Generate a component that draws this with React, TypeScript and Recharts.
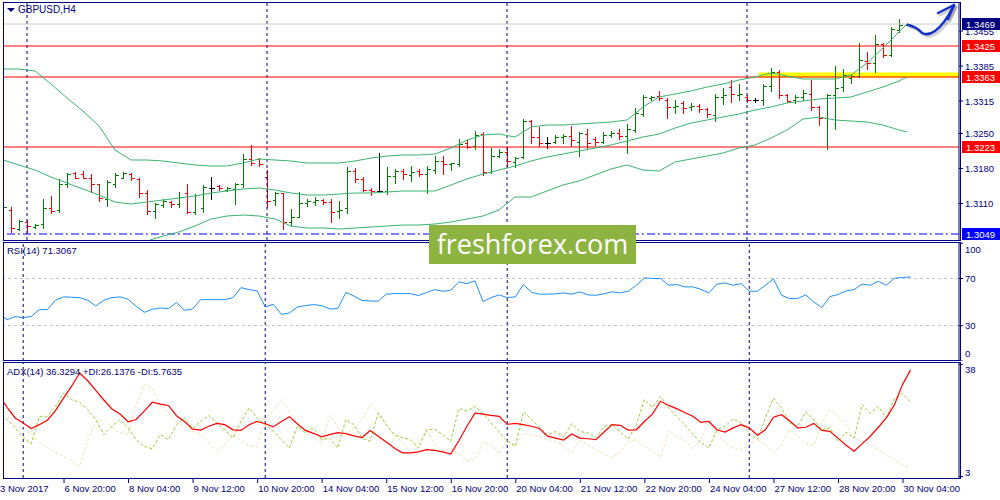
import React from "react";
import {
  ComposedChart,
  Bar,
  Line,
  XAxis,
  YAxis,
  ReferenceLine,
  ReferenceArea,
  ReferenceDot,
} from "recharts";

// GBPUSD H4, 3 Nov 12:00 .. 30 Nov 08:00
const opens = [
  1.3083, 1.3097, 1.3059, 1.3073, 1.3063, 1.3069, 1.3101, 1.3097, 1.3149, 1.3171,
  1.3169, 1.3161, 1.3149, 1.3119, 1.3149, 1.3161, 1.3169, 1.3159, 1.3131, 1.3095,
  1.3107, 1.3113, 1.3109, 1.3131, 1.3093, 1.3101, 1.3141, 1.3145, 1.3137, 1.3139,
  1.3149, 1.3199, 1.3199, 1.3163, 1.3117, 1.3131, 1.3073, 1.3083, 1.3111, 1.3113,
  1.3117, 1.3113, 1.3095, 1.3101, 1.3175, 1.3159, 1.3137, 1.3135, 1.3135, 1.3165,
  1.3175, 1.3167, 1.3175, 1.3169, 1.3177, 1.3195, 1.3189, 1.3189, 1.3231, 1.3225,
  1.3249, 1.3173, 1.3205, 1.3213, 1.3193, 1.3203, 1.3275, 1.3243, 1.3231, 1.3233,
  1.3243, 1.3245, 1.3233, 1.3249, 1.3239, 1.3233, 1.3247, 1.3251, 1.3245, 1.3257,
  1.3289, 1.3321, 1.3325, 1.3317, 1.3303, 1.3311, 1.3303, 1.3305, 1.3299, 1.3287,
  1.3323, 1.3343, 1.3327, 1.3323, 1.3317, 1.3317, 1.3345, 1.3373, 1.3327, 1.3317,
  1.3323, 1.3329, 1.3303, 1.3281, 1.3327, 1.3343, 1.3361, 1.3365, 1.3395, 1.3391,
  1.3429, 1.3407, 1.3457, 1.3467,
];
const highs = [
  1.3131, 1.3103, 1.3077, 1.3077, 1.3069, 1.3119, 1.3125, 1.3159, 1.3171, 1.3173,
  1.3175, 1.3169, 1.3149, 1.3157, 1.3171, 1.3173, 1.3171, 1.3161, 1.3137, 1.3111,
  1.3119, 1.3115, 1.3133, 1.3149, 1.3129, 1.3147, 1.3163, 1.3147, 1.3143, 1.3151,
  1.3209, 1.3227, 1.3201, 1.3177, 1.3133, 1.3131, 1.3099, 1.3133, 1.3119, 1.3123,
  1.3119, 1.3119, 1.3115, 1.3183, 1.3181, 1.3163, 1.3141, 1.3211, 1.3183, 1.3179,
  1.3179, 1.3185, 1.3179, 1.3185, 1.3205, 1.3205, 1.3191, 1.3239, 1.3237, 1.3255,
  1.3253, 1.3221, 1.3219, 1.3223, 1.3203, 1.3279, 1.3277, 1.3263, 1.3243, 1.3247,
  1.3249, 1.3265, 1.3253, 1.3259, 1.3243, 1.3253, 1.3255, 1.3259, 1.3269, 1.3301,
  1.3327, 1.3325, 1.3335, 1.3321, 1.3317, 1.3315, 1.3311, 1.3309, 1.3301, 1.3329,
  1.3341, 1.3357, 1.3349, 1.3327, 1.3321, 1.3349, 1.3381, 1.3377, 1.3329, 1.3327,
  1.3337, 1.3357, 1.3305, 1.3329, 1.3385, 1.3379, 1.3369, 1.3431, 1.3413, 1.3447,
  1.3431, 1.3463, 1.3479, 1.3471,
];
const lows = [
  1.3057, 1.3053, 1.3057, 1.3053, 1.3061, 1.3061, 1.3091, 1.3093, 1.3143, 1.3161,
  1.3161, 1.3133, 1.3115, 1.3105, 1.3143, 1.3161, 1.3157, 1.3123, 1.3089, 1.3081,
  1.3103, 1.3103, 1.3103, 1.3091, 1.3089, 1.3093, 1.3119, 1.3137, 1.3135, 1.3109,
  1.3143, 1.3187, 1.3185, 1.3103, 1.3107, 1.3059, 1.3065, 1.3083, 1.3105, 1.3107,
  1.3109, 1.3073, 1.3081, 1.3091, 1.3153, 1.3135, 1.3127, 1.3133, 1.3129, 1.3151,
  1.3159, 1.3155, 1.3165, 1.3131, 1.3171, 1.3169, 1.3177, 1.3185, 1.3221, 1.3219,
  1.3167, 1.3171, 1.3203, 1.3185, 1.3183, 1.3201, 1.3231, 1.3225, 1.3221, 1.3231,
  1.3231, 1.3225, 1.3205, 1.3221, 1.3227, 1.3231, 1.3243, 1.3239, 1.3211, 1.3253,
  1.3285, 1.3317, 1.3317, 1.3281, 1.3291, 1.3291, 1.3297, 1.3293, 1.3283, 1.3275,
  1.3309, 1.3313, 1.3317, 1.3313, 1.3313, 1.3307, 1.3335, 1.3321, 1.3313, 1.3311,
  1.3317, 1.3297, 1.3267, 1.3219, 1.3259, 1.3335, 1.3351, 1.3363, 1.3379, 1.3373,
  1.3403, 1.3405, 1.3453, 1.3467,
];
const closes = [
  1.3103, 1.3061, 1.3075, 1.3065, 1.3067, 1.3101, 1.3095, 1.3149, 1.3169, 1.3161,
  1.3161, 1.3149, 1.3121, 1.3153, 1.3167, 1.3171, 1.3161, 1.3131, 1.3095, 1.3109,
  1.3115, 1.3109, 1.3123, 1.3093, 1.3127, 1.3143, 1.3141, 1.3141, 1.3141, 1.3149,
  1.3199, 1.3191, 1.3189, 1.3115, 1.3131, 1.3073, 1.3083, 1.3111, 1.3115, 1.3117,
  1.3113, 1.3093, 1.3097, 1.3175, 1.3159, 1.3137, 1.3135, 1.3135, 1.3165, 1.3175,
  1.3169, 1.3173, 1.3169, 1.3179, 1.3195, 1.3189, 1.3191, 1.3229, 1.3223, 1.3247,
  1.3173, 1.3205, 1.3213, 1.3195, 1.3201, 1.3275, 1.3243, 1.3231, 1.3231, 1.3243,
  1.3245, 1.3237, 1.3251, 1.3231, 1.3233, 1.3247, 1.3251, 1.3245, 1.3259, 1.3291,
  1.3323, 1.3323, 1.3321, 1.3303, 1.3305, 1.3301, 1.3305, 1.3299, 1.3289, 1.3323,
  1.3327, 1.3329, 1.3329, 1.3317, 1.3317, 1.3345, 1.3373, 1.3327, 1.3315, 1.3323,
  1.3331, 1.3303, 1.3281, 1.3327, 1.3341, 1.3367, 1.3365, 1.3397, 1.3391, 1.3429,
  1.3407, 1.3459, 1.3467, 1.3469,
];

// Bollinger bands, read every second bar (0, 2, ... 112) plus the last bar
const bandUpper = [
  1.3379, 1.3379, 1.3375, 1.3349, 1.3321, 1.3295, 1.3265, 1.3217, 1.3197, 1.3197,
  1.3195, 1.3191, 1.3187, 1.3185, 1.3185, 1.3191, 1.3199, 1.3197, 1.3195, 1.3191,
  1.3191, 1.3191, 1.3195, 1.3201, 1.3205, 1.3207, 1.3207, 1.3209, 1.3221, 1.3237,
  1.3247, 1.3249, 1.3243, 1.3263, 1.3267, 1.3267, 1.3269, 1.3271, 1.3273, 1.3277,
  1.3303, 1.3323, 1.3329, 1.3335, 1.3343, 1.3349, 1.3357, 1.3363, 1.3371, 1.3365,
  1.3359, 1.3359, 1.3359, 1.3367, 1.3391, 1.3421, 1.3453, 1.3469,
];
const bandMiddle = [
  1.3197, 1.3187, 1.3177, 1.3163, 1.3151, 1.3139, 1.3127, 1.3113, 1.3109, 1.3113,
  1.3117, 1.3121, 1.3125, 1.3131, 1.3135, 1.3139, 1.3141, 1.3137, 1.3131, 1.3127,
  1.3127, 1.3129, 1.3131, 1.3131, 1.3133, 1.3135, 1.3135, 1.3135, 1.3147, 1.3159,
  1.3169, 1.3177, 1.3185, 1.3195, 1.3203, 1.3209, 1.3215, 1.3221, 1.3227, 1.3235,
  1.3243, 1.3249, 1.3261, 1.3271, 1.3277, 1.3283, 1.3289, 1.3297, 1.3303, 1.3311,
  1.3315, 1.3319, 1.3321, 1.3323, 1.3333, 1.3343, 1.3355, 1.3363,
];
const bandLower = [
  1.3015, 1.2993, 1.2977, 1.2965, 1.2955, 1.2961, 1.2981, 1.3007, 1.3025, 1.3035,
  1.3045, 1.3053, 1.3065, 1.3079, 1.3085, 1.3087, 1.3085, 1.3079, 1.3065, 1.3061,
  1.3061, 1.3059, 1.3061, 1.3063, 1.3065, 1.3067, 1.3067, 1.3069, 1.3073, 1.3079,
  1.3085, 1.3097, 1.3123, 1.3123, 1.3135, 1.3147, 1.3155, 1.3167, 1.3179, 1.3187,
  1.3177, 1.3175, 1.3193, 1.3199, 1.3205, 1.3211, 1.3221, 1.3227, 1.3241, 1.3257,
  1.3279, 1.3283, 1.3277, 1.3275, 1.3273, 1.3267, 1.3257, 1.3253,
];

const rsi = [
  40.2, 35.1, 37.7, 36.8, 37.9, 43.6, 43.6, 51.6, 54.4, 54.1,
  53.8, 51.6, 46.7, 51.6, 53.8, 54.4, 52.4, 46.5, 41.3, 43.9,
  45.0, 44.5, 49.6, 43.0, 44.2, 52.1, 52.1, 52.1, 52.1, 53.8,
  62.3, 60.6, 59.5, 45.9, 48.2, 39.6, 40.8, 45.9, 47.0, 47.9,
  47.0, 44.2, 44.5, 58.1, 55.2, 51.3, 51.0, 50.7, 56.7, 57.2,
  57.2, 57.2, 55.5, 58.1, 60.6, 59.2, 60.1, 67.2, 65.7, 68.0,
  50.4, 53.8, 56.1, 53.8, 54.4, 64.9, 58.4, 56.7, 56.7, 57.0,
  57.8, 56.7, 58.7, 56.1, 55.8, 57.0, 58.7, 57.8, 59.2, 64.3,
  70.6, 70.0, 70.0, 64.3, 64.9, 62.9, 62.9, 60.9, 57.8, 65.2,
  66.3, 64.3, 65.7, 59.2, 59.2, 64.3, 69.7, 55.8, 53.0, 53.0,
  56.1, 50.1, 45.3, 54.7, 56.4, 59.5, 60.6, 65.2, 64.3, 67.7,
  64.3, 70.3, 70.9, 71.3,
];

const adx = [
  28.4, 24.6, 21.3, 19.7, 18.0, 19.2, 20.6, 23.6, 27.5, 31.2,
  35.3, 32.9, 29.9, 26.9, 24.1, 22.5, 20.1, 20.8, 23.4, 26.2,
  25.6, 25.2, 22.0, 20.2, 17.8, 17.5, 18.7, 19.6, 19.2, 17.6,
  17.4, 19.2, 20.2, 19.5, 18.5, 20.2, 21.7, 19.4, 17.4, 16.5,
  15.4, 16.1, 16.7, 16.4, 15.7, 15.2, 17.4, 15.6, 13.8, 11.9,
  10.4, 10.4, 10.7, 11.4, 11.2, 10.7, 10.0, 14.2, 18.7, 22.8,
  22.5, 22.1, 21.8, 19.3, 19.6, 19.2, 18.7, 18.0, 15.6, 15.0,
  14.4, 16.3, 15.0, 14.8, 14.5, 16.9, 19.2, 19.0, 17.5, 17.6,
  20.2, 22.5, 26.5, 25.2, 24.2, 23.0, 21.8, 19.9, 20.2, 17.6,
  16.9, 18.2, 19.2, 18.2, 15.9, 17.6, 21.5, 22.3, 20.4, 18.2,
  18.4, 19.6, 17.4, 17.1, 15.0, 12.8, 10.9, 13.3, 15.6, 18.4,
  21.3, 25.4, 31.7, 36.3,
];
const plusDi = [
  23.4, 20.8, 18.2, 15.2, 13.2, 21.8, 21.8, 24.9, 29.1, 27.0,
  26.2, 23.9, 20.8, 16.1, 18.7, 20.8, 18.2, 14.5, 12.4, 11.7,
  16.1, 14.5, 19.2, 21.3, 18.0, 20.2, 22.1, 19.7, 17.6, 15.0,
  20.2, 24.4, 21.3, 19.2, 17.1, 14.5, 11.9, 18.7, 16.6, 18.2,
  14.5, 15.0, 11.9, 20.8, 19.2, 15.0, 14.0, 22.8, 19.2, 16.1,
  15.2, 14.5, 11.9, 17.6, 17.8, 16.1, 14.0, 24.2, 23.4, 24.9,
  22.8, 19.7, 16.9, 14.1, 12.4, 23.2, 20.9, 18.4, 15.9, 17.1,
  15.4, 19.5, 17.1, 16.6, 15.1, 18.6, 19.2, 16.9, 14.7, 19.2,
  27.0, 24.6, 28.0, 24.4, 21.8, 19.2, 16.3, 13.7, 11.9, 17.6,
  18.7, 21.0, 19.7, 16.5, 14.5, 21.3, 27.5, 24.4, 19.7, 18.7,
  23.2, 20.7, 17.6, 18.2, 14.0, 16.9, 15.0, 25.4, 22.8, 24.9,
  21.3, 27.3, 29.0, 26.1,
];
const minusDi = [
  25.4, 22.0, 18.9, 17.7, 16.3, 13.6, 12.1, 10.6, 9.3, 8.0,
  6.2, 14.5, 20.2, 20.7, 18.4, 16.7, 16.1, 25.4, 31.7, 30.6,
  25.6, 23.0, 20.0, 18.4, 17.1, 16.3, 13.7, 11.1, 12.8, 15.9,
  14.2, 12.6, 12.1, 21.3, 23.4, 27.0, 23.4, 19.4, 16.9, 15.2,
  13.2, 22.1, 18.4, 16.3, 18.4, 20.8, 25.4, 23.2, 19.4, 15.8,
  13.8, 10.7, 13.8, 17.3, 13.2, 10.9, 11.9, 10.0, 8.0, 8.2,
  13.8, 12.8, 10.0, 14.3, 12.8, 16.5, 15.9, 15.6, 14.6, 14.0,
  12.5, 10.7, 14.4, 12.8, 11.5, 10.0, 8.8, 10.7, 13.9, 14.5,
  12.4, 11.1, 9.0, 17.3, 15.6, 14.2, 11.6, 14.5, 19.6, 17.1,
  13.6, 11.8, 11.4, 13.0, 14.5, 13.0, 10.5, 13.0, 17.6, 15.6,
  13.2, 12.8, 19.7, 24.1, 21.8, 19.2, 15.0, 14.0, 13.0, 11.4,
  9.8, 8.3, 6.6, 5.8,
];

const dateTicks = [0, 8, 16, 24, 32, 40, 48, 56, 64, 72, 80, 88, 96, 104, 112];
const dateLabels = [
  "3 Nov 2017", "6 Nov 20:00", "8 Nov 04:00", "9 Nov 12:00", "10 Nov 20:00",
  "14 Nov 04:00", "15 Nov 12:00", "16 Nov 20:00", "20 Nov 04:00", "21 Nov 12:00",
  "22 Nov 20:00", "24 Nov 04:00", "27 Nov 12:00", "28 Nov 20:00", "30 Nov 04:00",
];
const weekStarts = [3, 33, 63, 93];
const priceTicks = [1.311, 1.318, 1.325, 1.3315, 1.3385, 1.3455];
const levels = [
  { y: 1.3425, label: "1.3425" },
  { y: 1.3363, label: "1.3363" },
  { y: 1.3223, label: "1.3223" },
];
const lastPrice = 1.3469;
const lowMark = 1.3049;

const NAVY = "#000080";
const FONT = '"Liberation Sans", Arial, sans-serif';
const SLOTS = 120;

const rows = Array.from({ length: SLOTS }, (_, i) => {
  const has = i < opens.length;
  const b = i > 113 ? -1 : i === 113 ? 57 : i % 2 === 0 ? i / 2 : -1;
  return {
    i,
    range: has ? [lows[i], highs[i]] : null,
    o: has ? opens[i] : null,
    h: has ? highs[i] : null,
    l: has ? lows[i] : null,
    c: has ? closes[i] : null,
    upper: b >= 0 ? bandUpper[b] : null,
    middle: b >= 0 ? bandMiddle[b] : null,
    lower: b >= 0 ? bandLower[b] : null,
    rsi: has ? rsi[i] : null,
    adx: has ? adx[i] : null,
    pdi: has ? plusDi[i] : null,
    mdi: has ? minusDi[i] : null,
  };
});

function OhlcShape(props: any) {
  const { x, y, width, height, payload } = props;
  if (!payload || payload.o == null || !isFinite(y)) return null;
  const top = Math.min(y, y + height);
  const h = Math.abs(height);
  const span = payload.h - payload.l || 1;
  const py = (v: number) => Math.round(top + ((payload.h - v) / span) * h) + 0.5;
  const cx = Math.round(x + width / 2) + 0.5;
  const color = payload.c > payload.o ? "#008000" : payload.c < payload.o ? "#ff0000" : "#000000";
  return (
    <g stroke={color} strokeWidth={1} shapeRendering="crispEdges">
      <line x1={cx} x2={cx} y1={Math.round(top)} y2={Math.round(top + h) + 1} />
      <line x1={cx - 3} x2={cx} y1={py(payload.o)} y2={py(payload.o)} />
      <line x1={cx} x2={cx + 3} y1={py(payload.c)} y2={py(payload.c)} />
    </g>
  );
}

function PriceTick({ x, y, payload }: any) {
  return (
    <text x={x} y={y} dy={3.5} fill={NAVY} fontSize={9.5} fontFamily={FONT} textAnchor="start">
      {payload.value.toFixed(4)}
    </text>
  );
}

function PriceTag({ viewBox, text, bg }: any) {
  if (!viewBox) return null;
  const x = viewBox.x + viewBox.width + 3;
  const y = viewBox.y;
  return (
    <g>
      <rect x={x} y={y - 6} width={38} height={12} fill={bg} />
      <text x={x + 4} y={y + 3.5} fill="#ffffff" fontSize={9.5} fontFamily={FONT}>
        {text}
      </text>
    </g>
  );
}

function Arrow({ cx, cy }: any) {
  const d = "M 1 1 Q 10 3 15 9 Q 21 12 28 7 Q 38 0 47 -19";
  const head = "M 31 -11 L 47 -19 L 41 -5";
  return (
    <g fill="none" strokeLinecap="round" strokeLinejoin="round">
      <g transform={`translate(${cx + 2},${cy + 2})`} stroke="#000" strokeOpacity={0.18} strokeWidth={3}>
        <path d={d} />
        <path d={head} />
      </g>
      <g transform={`translate(${cx},${cy})`} stroke="#1632c8" strokeWidth={2.5}>
        <path d={d} />
        <path d={head} />
      </g>
    </g>
  );
}

function SideTick({ x, y, payload, shifts }: any) {
  const dy = (shifts[payload.value] ?? 0) + 3.5;
  return (
    <text x={x} y={y} dy={dy} fill={NAVY} fontSize={9.5} fontFamily={FONT} textAnchor="start">
      {payload.value}
    </text>
  );
}

function DateTick({ x, y, payload }: any) {
  const idx = dateTicks.indexOf(payload.value);
  return (
    <g>
      <line x1={x + 0.5} x2={x + 0.5} y1={y} y2={y + 5} stroke={NAVY} />
      <text x={x + 1} y={y + 14} fill={NAVY} fontSize={9.5} fontFamily={FONT} textAnchor="start">
        {dateLabels[idx]}
      </text>
    </g>
  );
}

const abs = (left: number, top: number, extra: React.CSSProperties = {}): React.CSSProperties => ({
  position: "absolute",
  left,
  top,
  ...extra,
});

const separators = (key: string) =>
  weekStarts.map((w) => (
    <ReferenceLine key={`${key}${w}`} x={w} stroke={NAVY} strokeDasharray="3 3" />
  ));

export default function App() {
  const margin = { top: 0, right: 0, bottom: 0, left: -1 };
  const labelStyle: React.CSSProperties = {
    fontFamily: FONT,
    fontSize: 9.5,
    color: NAVY,
    whiteSpace: "nowrap",
    lineHeight: "12px",
  };
  return (
    <div style={{ position: "absolute", left: 0, top: 0, width: 1000, height: 500, background: "#fff", overflow: "hidden" }}>
      {/* price panel */}
      <div style={abs(0, 0)}>
        <ComposedChart width={1000} height={240} data={rows} margin={{ ...margin, top: 2 }}>
          <XAxis dataKey="i" type="category" hide />
          <YAxis
            orientation="right"
            width={41}
            domain={[1.3037, 1.3513]}
            allowDataOverflow
            ticks={priceTicks}
            interval={0}
            tick={<PriceTick />}
            tickSize={4}
            tickLine={{ stroke: NAVY }}
            axisLine={{ stroke: NAVY }}
          />
          <ReferenceArea x1={95} x2={119} y1={1.3362} y2={1.3372} fill="#ffff00" fillOpacity={1} stroke="none" />
          {separators("p")}
          <ReferenceLine y={lastPrice} stroke="#c8c8c8" label={<PriceTag text="1.3469" bg={NAVY} />} />
          {levels.map((lv) => (
            <ReferenceLine key={lv.label} y={lv.y} stroke="#ff0000" label={<PriceTag text={lv.label} bg="#ff0000" />} />
          ))}
          <ReferenceLine y={lowMark} stroke="#0000ff" strokeDasharray="8 3 2 3" label={<PriceTag text="1.3049" bg="#0000ff" />} />
          <Line dataKey="upper" stroke="#3cb371" dot={false} connectNulls isAnimationActive={false} />
          <Line dataKey="middle" stroke="#3cb371" dot={false} connectNulls isAnimationActive={false} />
          <Line dataKey="lower" stroke="#3cb371" dot={false} connectNulls isAnimationActive={false} />
          <Bar dataKey="range" barSize={4} shape={(p: any) => <OhlcShape {...p} />} isAnimationActive={false} />
          <ReferenceDot x={113} y={lastPrice} r={0} shape={(p: any) => <Arrow {...p} />} />
        </ComposedChart>
      </div>

      {/* RSI panel */}
      <div style={abs(0, 242)}>
        <ComposedChart width={1000} height={119} data={rows} margin={margin}>
          <XAxis dataKey="i" type="category" hide />
          <YAxis
            orientation="right"
            width={41}
            domain={[0, 101]}
            ticks={[0, 30, 70, 100]}
            interval={0}
            tick={<SideTick shifts={{ 100: 6, 0: -8 }} />}
            tickSize={4}
            tickLine={{ stroke: NAVY }}
            axisLine={{ stroke: NAVY }}
          />
          <ReferenceLine y={70} stroke="#c0c0c0" strokeDasharray="3 3" />
          <ReferenceLine y={30} stroke="#c0c0c0" strokeDasharray="3 3" />
          {separators("r")}
          <Line dataKey="rsi" stroke="#1e90ff" dot={false} isAnimationActive={false} />
        </ComposedChart>
      </div>

      {/* ADX panel */}
      <div style={abs(0, 362)}>
        <ComposedChart width={1000} height={138} data={rows} margin={margin}>
          <XAxis
            dataKey="i"
            type="category"
            height={22}
            ticks={dateTicks}
            interval={0}
            tick={<DateTick />}
            tickLine={false}
            tickSize={0}
            tickMargin={0}
            axisLine={false}
          />
          <YAxis
            orientation="right"
            width={41}
            domain={[2.56, 38.75]}
            allowDataOverflow
            ticks={[3, 38]}
            interval={0}
            tick={<SideTick shifts={{ 38: 5.5, 3: -4.5 }} />}
            tickSize={4}
            tickLine={{ stroke: NAVY }}
            axisLine={{ stroke: NAVY }}
          />
          {separators("a")}
          <Line dataKey="mdi" stroke="#f5deb3" strokeDasharray="3 2" dot={false} isAnimationActive={false} />
          <Line dataKey="pdi" stroke="#9acd32" strokeDasharray="3 2" dot={false} isAnimationActive={false} />
          <Line dataKey="adx" stroke="#ff0000" strokeWidth={1.2} dot={false} isAnimationActive={false} />
        </ComposedChart>
      </div>

      {/* clip strip and panel frames */}
      <div style={abs(0, 0, { width: 3, height: 480, background: "#fff" })} />
      <div style={abs(3, 2, { width: 958, height: 239, border: `1px solid ${NAVY}`, boxSizing: "border-box" })} />
      <div style={abs(3, 242, { width: 958, height: 119, border: `1px solid ${NAVY}`, boxSizing: "border-box" })} />
      <div style={abs(3, 362, { width: 958, height: 117, border: `1px solid ${NAVY}`, boxSizing: "border-box" })} />

      {/* panel captions */}
      <div
        style={abs(7, 8, {
          width: 0,
          height: 0,
          borderLeft: "4px solid transparent",
          borderRight: "4px solid transparent",
          borderTop: `4px solid ${NAVY}`,
        })}
      />
      <div style={{ ...abs(18, 4), ...labelStyle, fontSize: 10 }}>GBPUSD,H4</div>
      <div style={{ ...abs(7, 245), ...labelStyle }}>RSI(14) 71.3067</div>
      <div style={{ ...abs(7, 366), ...labelStyle }}>ADX(14) 36.3294 +DI:26.1376 -DI:5.7635</div>

      {/* watermark */}
      <div
        style={abs(429, 225, {
          width: 207,
          height: 39,
          background: "#8db440",
          color: "#fff",
          fontFamily: '"Open Sans", sans-serif',
          fontSize: 27,
          lineHeight: "37px",
          textAlign: "center",
        })}
      >
        freshforex.com
      </div>
    </div>
  );
}
